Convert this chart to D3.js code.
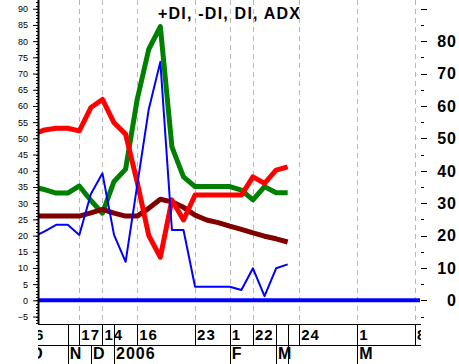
<!DOCTYPE html>
<html>
<head>
<meta charset="utf-8">
<script src="https://cdn.jsdelivr.net/npm/d3@7"></script>
<style>
  html, body { margin: 0; padding: 0; background: #ffffff; }
  svg { display: block; font-family: "Liberation Sans", Arial, sans-serif; }
</style>
</head>
<body>
<div id="chart"></div>
<script>
// ---------- data ----------
const title = "+DI, -DI, DI, ADX";
// x is an index of the (irregularly dated) bars
const xIndex = [0,1,2,3,4,5,6,7,8,9,10,11,12,13,14,15,16,17,18,19,20,21,22];
const plusDI  = [51.3,52.6,53.1,53.1,52.3,59.5,62.0,54.8,51.3,36.5,20.0,13.3,31.0,24.8,32.5,32.5,32.5,32.5,32.5,38.1,36.1,40.2,41.2];
const minusDI = [35.0,34.2,33.1,33.1,35.3,30.8,26.9,36.7,40.5,62.0,77.5,84.5,47.4,38.1,35.1,35.1,35.1,35.1,34.0,31.0,35.1,33.2,33.2];
const diValues= [19.5,21.3,23.3,23.3,20.2,32.8,39.2,20.2,11.9,35.5,59.0,73.6,21.7,21.7,4.2,4.2,4.2,4.2,3.2,9.9,1.3,9.9,11.1];
const adx     = [26.0,26.0,26.0,26.0,26.0,27.0,28.1,26.9,26.0,26.0,28.4,31.2,30.4,28.7,26.3,24.8,24.0,22.9,21.9,20.8,19.8,19.0,18.0];
const zeroLevel = 0;

// bottom (date) axis, row 1 (days) and row 2 (months / year)
const dayTickIdx    = [0,3,4,6,7,9,14,17,19,21,22,23,28,33];
const dayTickLabels = ["6","","17","14","","16","23","1","22","","","24","1","8"];
const monthTickIdx    = [-0.4,3,5,7,17,21,22,28];
const monthTickLabels = ["O","N","D","2006","F","M","","M"];
const gridIdx = [4,6,9,14,17,19,23,28,33];

// y axes
const leftTicks  = [-5,0,5,10,15,20,25,30,35,40,45,50,55,60,65,70,75,80,85,90];
const rightMajor = [0,10,20,30,40,50,60,70,80,90];
const rightMinor = [-5,5,15,25,35,45,55,65,75,85];
const rightLabels= [0,10,20,30,40,50,60,70,80];

// ---------- layout ----------
const W = 459, H = 364;
const plotL = 38, plotR = 420, plotT = 0, plotB = 324;
const row1B = 345;

const svg = d3.select("#chart").append("svg")
  .attr("width", W).attr("height", H);

const x = d3.scaleLinear().domain([0.432, 33.43]).range([plotL, plotR]);
const y = d3.scaleLinear().domain([-7.3, 92.7]).range([plotB, plotT]);

svg.append("defs").append("clipPath").attr("id", "plotClip")
  .append("rect").attr("x", plotL).attr("y", plotT)
  .attr("width", plotR - plotL).attr("height", plotB - plotT);
svg.select("defs").append("clipPath").attr("id", "bandClip")
  .append("rect").attr("x", plotL).attr("y", plotB)
  .attr("width", plotR - plotL + 1).attr("height", H - plotB);

// gridlines
svg.append("g").selectAll("line").data(gridIdx).join("line")
  .attr("x1", d => Math.round(x(d)) + 0.5).attr("x2", d => Math.round(x(d)) + 0.5)
  .attr("y1", plotT).attr("y2", plotB)
  .attr("stroke", "#b8b8b8").attr("stroke-width", 1)
  .attr("stroke-dasharray", "5,4");

// title
svg.append("text").attr("x", 158).attr("y", 19)
  .attr("font-size", 16).attr("font-weight", "bold")
  .attr("textLength", 142).attr("lengthAdjust", "spacing")
  .attr("fill", "#000").text(title);

// series
const plot = svg.append("g").attr("clip-path", "url(#plotClip)");
const line = d3.line().x((d, i) => x(xIndex[i])).y(d => y(d));

plot.append("line")
  .attr("x1", plotL).attr("x2", plotR)
  .attr("y1", y(zeroLevel)).attr("y2", y(zeroLevel))
  .attr("stroke", "#0000ff").attr("stroke-width", 4);

const series = [
  {v: minusDI, c: "#008000", w: 5},
  {v: adx,     c: "#800000", w: 5},
  {v: plusDI,  c: "#ff0000", w: 5},
  {v: diValues,c: "#0000ff", w: 2}
];
series.forEach(s => {
  plot.append("path").datum(s.v).attr("d", line)
    .attr("fill", "none").attr("stroke", s.c)
    .attr("stroke-width", s.w).attr("stroke-linejoin", "round");
});

// left axis
const leftAxis = d3.axisLeft(y).tickValues(leftTicks).tickSize(5).tickPadding(5)
  .tickFormat(d3.format("d"));
const gl = svg.append("g").attr("transform", `translate(${plotL},0)`).call(leftAxis);
gl.select(".domain").attr("d", `M0.5,${plotT}V${plotB}`).attr("stroke", "#000").attr("stroke-width", 2);
gl.selectAll(".tick text").attr("font-size", 9).attr("font-family", "Liberation Sans, Arial, sans-serif").attr("fill", "#000");
gl.selectAll(".tick line").attr("stroke", "#000");
// minor left ticks
svg.append("g").selectAll("line").data(d3.range(-7, 93)).join("line")
  .attr("x1", plotL - 2).attr("x2", plotL)
  .attr("y1", d => Math.round(y(d)) + 0.5).attr("y2", d => Math.round(y(d)) + 0.5)
  .attr("stroke", "#000");

// right axis ticks + labels
svg.append("g").selectAll("line").data(rightMajor).join("line")
  .attr("x1", 421).attr("x2", 427)
  .attr("y1", d => Math.round(y(d)) + 0.5).attr("y2", d => Math.round(y(d)) + 0.5)
  .attr("stroke", "#000");
svg.append("g").selectAll("line").data(rightMinor).join("line")
  .attr("x1", 421).attr("x2", 424)
  .attr("y1", d => Math.round(y(d)) + 0.5).attr("y2", d => Math.round(y(d)) + 0.5)
  .attr("stroke", "#000");
svg.append("g").selectAll("text").data(rightLabels).join("text")
  .attr("x", 457).attr("y", d => y(d)).attr("dy", "0.36em")
  .attr("text-anchor", "end").attr("font-size", 16).attr("font-weight", "bold")
  .attr("letter-spacing", 1)
  .text(d => d);

// bottom date band
const band = svg.append("g").attr("clip-path", "url(#bandClip)");
band.append("line").attr("x1", plotL).attr("x2", plotR + 1)
  .attr("y1", plotB + 0.5).attr("y2", plotB + 0.5).attr("stroke", "#000");
band.append("line").attr("x1", plotL).attr("x2", plotR + 1)
  .attr("y1", row1B + 0.5).attr("y2", row1B + 0.5).attr("stroke", "#000");
band.append("g").selectAll("line").data(dayTickIdx).join("line")
  .attr("x1", d => Math.round(x(d)) + 0.5).attr("x2", d => Math.round(x(d)) + 0.5)
  .attr("y1", plotB).attr("y2", row1B).attr("stroke", "#000");
band.append("g").selectAll("text").data(dayTickIdx).join("text")
  .attr("x", d => x(d) + 2).attr("y", 339.5)
  .attr("font-size", 15).attr("font-weight", "bold").attr("letter-spacing", 1)
  .text((d, i) => dayTickLabels[i]);
band.append("g").selectAll("line").data(monthTickIdx).join("line")
  .attr("x1", d => Math.round(x(d)) + 0.5).attr("x2", d => Math.round(x(d)) + 0.5)
  .attr("y1", row1B).attr("y2", H).attr("stroke", "#000");
band.append("g").selectAll("text").data(monthTickIdx).join("text")
  .attr("x", d => x(d) + 2).attr("y", 358.5)
  .attr("font-size", 16).attr("font-weight", "bold").attr("letter-spacing", 1)
  .text((d, i) => monthTickLabels[i]);
</script>
</body>
</html>
